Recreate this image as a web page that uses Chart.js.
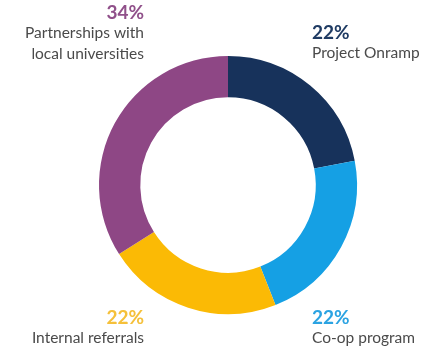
<!DOCTYPE html>
<html>
<head>
<meta charset="utf-8">
<script src="https://cdn.jsdelivr.net/npm/chart.js@4/dist/chart.umd.min.js"></script>
<style>
  html, body { margin: 0; padding: 0; background: #ffffff; }
  #wrap { width: 429px; height: 353px; position: relative; }
</style>
</head>
<body>
<div id="wrap"><canvas id="c" width="429" height="353"></canvas></div>
<script>
const categories = ["Project Onramp", "Co-op program", "Internal referrals", "Partnerships with local universities"];
const labelLines = [["Project Onramp"], ["Co-op program"], ["Internal referrals"], ["Partnerships with", "local universities"]];
const values = [22, 22, 22, 34];
const colors = ["#17325b", "#15a0e4", "#fbba05", "#8e4785"];
const pctColors = ["#1f3b63", "#2ba3e2", "#f5c03a", "#90508a"];

const labelPlugin = {
  id: "cornerLabels",
  afterDraw(chart) {
    const ctx = chart.ctx;
    const meta = chart.getDatasetMeta(0);
    const arc0 = meta.data[0];
    const cx = arc0.x, cy = arc0.y;
    const anchors = [
      { x: cx + 84, y: cy - 152, align: "left" },
      { x: cx + 84, y: cy + 133, align: "left" },
      { x: cx - 84, y: cy + 133, align: "right" },
      { x: cx - 84, y: cy - 172, align: "right" }
    ];
    ctx.save();
    ctx.textBaseline = "middle";
    values.forEach((v, i) => {
      const a = anchors[i];
      ctx.textAlign = a.align;
      ctx.fillStyle = pctColors[i];
      ctx.font = "bold 19px Lato";
      ctx.fillText(v + "%", a.x, a.y);
      ctx.fillStyle = "#4a4a4a";
      ctx.font = "15.5px Lato";
      labelLines[i].forEach((line, j) => {
        ctx.fillText(line, a.x, a.y + 20 + j * 21);
      });
    });
    ctx.restore();
  }
};

new Chart(document.getElementById("c"), {
  type: "doughnut",
  data: {
    labels: categories,
    datasets: [{
      data: values,
      backgroundColor: colors,
      borderWidth: 0
    }]
  },
  options: {
    responsive: false,
    animation: false,
    cutout: "68%",
    layout: { padding: { left: 99, right: 72, top: 56, bottom: 39 } },
    plugins: { legend: { display: false }, tooltip: { enabled: false } }
  },
  plugins: [labelPlugin]
});
</script>
</body>
</html>
